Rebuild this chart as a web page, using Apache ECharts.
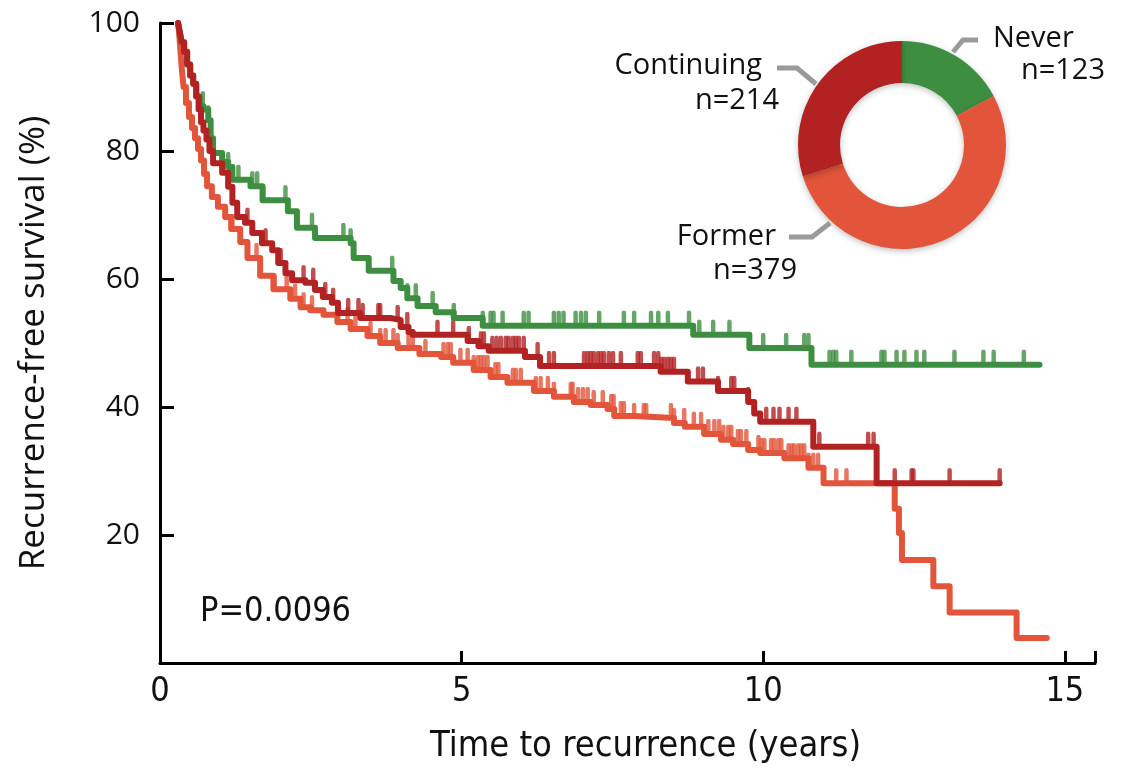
<!DOCTYPE html>
<html><head><meta charset="utf-8">
<script src="https://cdn.jsdelivr.net/npm/echarts@6/dist/echarts.min.js"></script>
<style>html,body{margin:0;padding:0;background:#fff}#c{width:1126px;height:777px}</style>
</head><body><div id="c"></div>
<script>
// ---- data ----
const groups = ['Never', 'Continuing', 'Former'];
const groupN = [123, 214, 379];
const pValue = '0.0096';
const xTickLabels = ['0', '5', '10', '15'];
const yTickLabels = ['20', '40', '60', '80', '100'];

const neverSteps = [[0.30,100],[0.33,98.5],[0.36,97],[0.40,95.5],[0.45,93.5],[0.50,91.8],[0.55,90.5],[0.60,88.5],[0.66,87],[0.72,86.5],[0.80,84.8],[0.84,82],[0.88,79.7],[1.03,78.3],[1.13,77.5],[1.20,75.5],[1.50,74.5],[1.70,72.3],[2.12,70.6],[2.27,68],[2.57,66.4],[3.16,65.6],[3.21,63.3],[3.46,61.3],[3.87,59.7],[3.99,58.6],[4.10,57.0],[4.27,55.8],[4.57,54.8],[4.87,53.9],[5.35,52.7],[8.84,51.3],[9.77,49.2],[10.80,46.6],[14.58,46.6]];
const neverCensor = [0.71,0.80,1.13,1.30,1.53,1.61,1.71,2.08,2.52,3.04,3.16,3.46,3.85,4.10,4.24,4.52,4.87,5.35,5.48,5.53,5.68,6.03,6.11,6.53,6.61,6.69,6.89,6.98,7.06,7.28,7.69,7.86,8.14,8.26,8.42,8.77,8.94,9.17,9.44,10.0,10.38,10.68,10.75,11.10,11.16,11.21,11.46,11.96,12.01,12.21,12.34,12.54,12.67,13.17,13.65,13.82,14.32];

const continuingSteps = [[0.30,100],[0.33,98.5],[0.36,97],[0.40,95.5],[0.45,93.5],[0.50,91.8],[0.55,90.5],[0.60,88.5],[0.64,86.5],[0.68,84.5],[0.72,83.2],[0.77,81.8],[0.82,80],[0.88,78.1],[1.03,76.6],[1.13,74.4],[1.20,71.9],[1.28,69.7],[1.41,68.8],[1.53,67.2],[1.69,65.6],[1.86,64.5],[1.96,62.5],[2.08,60.9],[2.19,59.8],[2.41,59.4],[2.57,58.3],[2.70,57.2],[2.85,56.3],[2.95,54.7],[3.32,53.9],[3.82,53.6],[3.99,52.5],[4.12,51.7],[4.19,51.3],[5.10,50.3],[5.28,49.5],[5.45,48.8],[6.05,47.8],[6.30,46.4],[8.30,45.5],[8.75,44.0],[9.25,42.5],[9.75,40.8],[9.85,39.0],[9.95,37.7],[10.83,33.8],[11.88,28.1],[13.92,28.1]];
const continuingCensor = [1.05,1.45,1.75,2.0,2.38,2.54,2.74,2.87,3.12,3.29,3.36,3.62,3.65,3.94,4.10,4.60,4.86,5.12,5.32,5.37,5.51,5.58,5.65,5.73,5.78,5.85,5.90,5.95,6.03,6.26,6.45,6.53,7.03,7.09,7.14,7.19,7.26,7.31,7.36,7.44,7.51,7.64,7.92,7.97,8.19,8.26,8.31,8.36,8.42,8.47,8.52,8.92,9.0,9.25,9.47,9.52,9.75,10.05,10.17,10.27,10.42,10.55,10.93,11.74,11.83,12.18,12.46,12.49,13.09,13.92];

const formerSteps = [[0.30,100],[0.32,98],[0.34,95.5],[0.36,93],[0.39,90],[0.43,87.5],[0.48,85.3],[0.53,83.6],[0.58,82],[0.63,80.3],[0.68,78.5],[0.73,76.4],[0.78,74.5],[0.86,72.8],[0.96,71.3],[1.08,69.7],[1.18,67.8],[1.33,65.8],[1.45,63.3],[1.66,60.5],[1.88,58.4],[2.16,56.9],[2.33,55.6],[2.49,55.1],[2.71,54.4],[2.94,53.3],[3.16,52.2],[3.44,51.1],[3.65,50.0],[3.94,49.2],[4.30,48.3],[4.66,47.8],[4.86,46.9],[5.20,45.8],[5.48,44.7],[5.76,43.8],[6.20,42.5],[6.53,41.6],[6.86,40.8],[7.14,40.3],[7.42,39.7],[7.53,38.6],[7.86,38.3],[8.52,37.5],[8.70,36.9],[9.02,35.8],[9.30,34.9],[9.50,34.2],[9.75,33.3],[9.95,32.8],[10.35,32.0],[10.75,30.5],[11.0,28.1],[12.18,24.1],[12.25,20.3],[12.30,16.1],[12.82,12.0],[13.09,7.9],[14.20,3.9],[14.70,3.9]];
const formerCensor = [1.2,1.6,1.9,2.1,2.24,2.38,2.52,3.11,3.24,3.49,3.65,3.74,3.87,3.94,4.12,4.19,4.40,4.70,4.77,4.82,4.98,5.10,5.20,5.27,5.32,5.37,5.43,5.56,5.61,5.85,5.90,5.98,6.23,6.31,6.43,6.53,6.81,6.84,6.93,7.01,7.09,7.19,7.34,7.48,7.52,7.64,7.69,7.86,8.02,8.06,8.47,8.52,8.69,8.85,8.97,9.09,9.19,9.27,9.34,9.42,9.47,9.58,9.63,9.72,9.92,9.97,10.02,10.13,10.18,10.25,10.30,10.42,10.47,10.51,10.58,10.63,10.68,10.75,10.83,10.91,11.0,11.21,11.38];

// ---- styling ----
const COL = { Never: '#3e8e41', Continuing: '#b22222', Former: '#e2553a' };
const CONDENSED = "'Liberation Sans Narrow','DejaVu Sans Condensed','Roboto Condensed',sans-serif";
const REGULAR = "'Open Sans','Noto Sans',sans-serif";

function stepAt(steps, t) {
  let v = steps[0][1];
  for (const p of steps) { if (p[0] <= t) v = p[1]; else break; }
  return v;
}
function lineSeries(name, steps) {
  return { name, type: 'line', step: 'end', data: steps, showSymbol: false, silent: true,
    lineStyle: { color: COL[name], width: 6, cap: 'round', join: 'round' }, itemStyle: { color: COL[name] } };
}
function censorSeries(name, steps, censor) {
  return { name: name + ' censored', type: 'scatter', silent: true,
    data: censor.map(t => [t, stepAt(steps, t)]),
    symbol: 'roundRect', symbolSize: [4.5, 15], symbolOffset: [0, '-50%'],
    itemStyle: { color: COL[name] } };
}

const chart = echarts.init(document.getElementById('c'), null, { renderer: 'canvas' });

const pieOrder = ['Never', 'Former', 'Continuing'];
const pieData = pieOrder.map(g => ({ name: g, value: groupN[groups.indexOf(g)], itemStyle: { color: COL[g] } }));

const labelSpec = {
  Never:      { lines: [[953,52],[963,40],[978,40]], t1: [993, 39, 'left'], t2: [1105, 71, 'right'] },
  Continuing: { lines: [[777,68],[797,68],[816,84]], t1: [762, 66, 'right'], t2: [779, 101, 'right'] },
  Former:     { lines: [[789,237],[812,237],[830,223]], t1: [776, 237, 'right'], t2: [797, 271, 'right'] }
};
const graphics = [];
groups.forEach((g, i) => {
  const s = labelSpec[g];
  graphics.push({ type: 'polyline', z: 10, shape: { points: s.lines }, style: { stroke: '#9a9a9a', lineWidth: 5, fill: null } });
  graphics.push({ type: 'text', z: 10, x: s.t1[0], y: s.t1[1], style: { text: g, fill: '#111', font: '29px ' + REGULAR, textAlign: s.t1[2], textVerticalAlign: 'middle' } });
  graphics.push({ type: 'text', z: 10, x: s.t2[0], y: s.t2[1], style: { text: 'n=' + groupN[i], fill: '#111', font: '29px ' + REGULAR, textAlign: s.t2[2], textVerticalAlign: 'middle' } });
});
graphics.push({ type: 'text', x: 200, y: 612, style: { text: 'P=' + pValue, fill: '#111', font: '34px ' + CONDENSED, textAlign: 'left', textVerticalAlign: 'middle' } });

chart.setOption({
  animation: false,
  backgroundColor: '#fff',
  grid: { left: 160, right: 31, top: 23, bottom: 114, containLabel: false },
  xAxis: {
    type: 'value', min: 0, max: 15.5, interval: 5,
    name: 'Time to recurrence (years)', nameLocation: 'middle', nameGap: 66,
    nameTextStyle: { fontFamily: CONDENSED, fontSize: 36, color: '#111', padding: [0, 0, 0, 36] },
    axisLine: { show: true, onZero: false, lineStyle: { color: '#000', width: 3 } },
    axisTick: { show: true, inside: true, length: 12, lineStyle: { color: '#000', width: 3 } },
    axisLabel: { margin: 12, fontFamily: CONDENSED, fontSize: 34, color: '#111',
      formatter: v => { const i = [0,5,10,15].indexOf(v); return i >= 0 ? xTickLabels[i] : ''; } },
    splitLine: { show: false }
  },
  yAxis: {
    type: 'value', min: 0, max: 100, interval: 20,
    name: 'Recurrence-free survival (%)', nameLocation: 'middle', nameGap: 108, nameRotate: 90,
    nameTextStyle: { fontFamily: REGULAR, fontSize: 35, color: '#111' },
    axisLine: { show: true, lineStyle: { color: '#000', width: 3 } },
    axisTick: { show: true, inside: true, length: 14, lineStyle: { color: '#000', width: 3 } },
    axisLabel: { margin: 20, fontFamily: REGULAR, fontSize: 30, color: '#111',
      formatter: v => { const i = [20,40,60,80,100].indexOf(v); return i >= 0 ? yTickLabels[i] : ''; } },
    splitLine: { show: false }
  },
  series: [
    lineSeries('Former', formerSteps),
    censorSeries('Former', formerSteps, formerCensor),
    lineSeries('Never', neverSteps),
    censorSeries('Never', neverSteps, neverCensor),
    lineSeries('Continuing', continuingSteps),
    censorSeries('Continuing', continuingSteps, continuingCensor),
    { type: 'pie', center: [902, 145], radius: [62, 104], startAngle: 90, clockwise: true,
      silent: true, label: { show: false }, labelLine: { show: false },
      itemStyle: { shadowBlur: 6, shadowColor: 'rgba(0,0,0,0.25)', shadowOffsetY: 2 },
      data: pieData }
  ],
  graphic: graphics
});
</script></body></html>
